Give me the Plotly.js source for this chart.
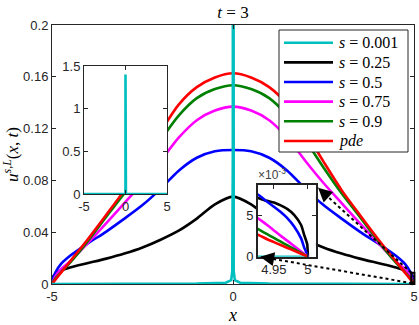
<!DOCTYPE html>
<html>
<head>
<meta charset="utf-8">
<script src="https://cdn.plot.ly/plotly-3.0.1.min.js"></script>
<style>
  html, body { margin: 0; padding: 0; background: #fff; }
  #plot { width: 419px; height: 325px; }
</style>
</head>
<body>
<div id="plot"></div>
<script>
// --- datos ---
const xs = [-5, -4.99, -4.95, -4.9, -4.75, -4.5, -4, -3.5, -3, -2.5, -2, -1.5, -1, -0.5, 0,
            0.5, 1, 1.5, 2, 2.5, 3, 3.5, 4, 4.5, 4.75, 4.9, 4.95, 4.99, 5];

const uS025 = [0, 0.0038, 0.0065, 0.0078, 0.0105, 0.0128, 0.0162, 0.0196, 0.0235, 0.0282, 0.0342, 0.0412, 0.0505, 0.0615, 0.0675,
               0.0615, 0.0505, 0.0412, 0.0342, 0.0282, 0.0235, 0.0196, 0.0162, 0.0128, 0.0105, 0.0078, 0.0065, 0.0038, 0];
const uS05  = [0, 0.0022, 0.006, 0.0092, 0.0155, 0.0218, 0.0315, 0.0405, 0.0505, 0.061, 0.0735, 0.0875, 0.0975, 0.1025, 0.1035,
               0.1025, 0.0975, 0.0875, 0.0735, 0.061, 0.0505, 0.0405, 0.0315, 0.0218, 0.0155, 0.0092, 0.006, 0.0022, 0];
const uS075 = [0, 0.0006, 0.0032, 0.0063, 0.0115, 0.0175, 0.032, 0.047, 0.0625, 0.078, 0.095, 0.113, 0.1265, 0.134, 0.137,
               0.134, 0.1265, 0.113, 0.095, 0.078, 0.0625, 0.047, 0.032, 0.0175, 0.0115, 0.0063, 0.0032, 0.0006, 0];
const uS09  = [0, 0.00045, 0.0023, 0.0045, 0.0092, 0.0165, 0.0335, 0.052, 0.07, 0.09, 0.111, 0.130, 0.1435, 0.1505, 0.1535,
               0.1505, 0.1435, 0.130, 0.111, 0.09, 0.07, 0.052, 0.0335, 0.0165, 0.0092, 0.0045, 0.0023, 0.00045, 0];
const uPde  = [0, 0.00035, 0.0018, 0.0036, 0.0088, 0.0175, 0.035, 0.0535, 0.0725, 0.0945, 0.1175, 0.1385, 0.152, 0.1595, 0.1627,
               0.1595, 0.152, 0.1385, 0.1175, 0.0945, 0.0725, 0.0535, 0.035, 0.0175, 0.0088, 0.0036, 0.0018, 0.00035, 0];

// s = 0.001: casi una delta en x = 0
const xSpike = [-5, -1, -0.2, -0.05, -0.02, -0.005, 0, 0.005, 0.02, 0.05, 0.2, 1, 5];
const uS0001 = [0, 0.0003, 0.001, 0.003, 0.01, 0.1, 1.4, 0.1, 0.01, 0.003, 0.001, 0.0003, 0];

// zoom cerca de x = 5 (valores x 1e-3)
const xZoom = [4.92, 4.93, 4.94, 4.95, 4.96, 4.97, 4.98, 4.99, 4.995, 4.999, 5];
const zS025 = [7.2, 6.95, 6.7, 6.5, 6.15, 5.7, 5.0, 3.8, 2.5, 1.5, 0];
const zS05  = [7.8, 7.25, 6.6, 6.0, 5.35, 4.6, 3.6, 2.2, 1.0, 0.3, 0];
const zS075 = [5.0, 4.4, 3.8, 3.15, 2.5, 1.9, 1.25, 0.62, 0.31, 0.06, 0];
const zS09  = [3.6, 3.15, 2.7, 2.25, 1.8, 1.35, 0.9, 0.45, 0.22, 0.05, 0];
const zPde  = [2.85, 2.5, 2.1, 1.75, 1.4, 1.05, 0.7, 0.35, 0.18, 0.04, 0];
const zS0001 = [0, 0, 0, 0, 0, 0, 0, 0, 0, 0, 0];

const seriesNames = ['<i>s</i> = 0.001', '<i>s</i> = 0.25', '<i>s</i> = 0.5',
                     '<i>s</i> = 0.75', '<i>s</i> = 0.9', '<i>pde</i>'];
const seriesColors = ['#00BFBF', '#000000', '#0000FF', '#FF00FF', '#008000', '#FF0000'];

const xTicks = [-5, 0, 5];
const xTickText = ['-5', '0', '5'];
const yTicks = [0, 0.04, 0.08, 0.12, 0.16, 0.2];
const yTickText = ['0', '0.04', '0.08', '0.12', '0.16', '0.2'];
const y2Ticks = [0, 0.5, 1, 1.5];
const y2TickText = ['0', '0.5', '1', '1.5'];
const x3Ticks = [4.95, 5];
const x3TickText = ['4.95', '5'];
const y3Ticks = [0, 5];
const y3TickText = ['0', '5'];

// --- configuracion ---
const LW = 2.6;
const AX = '#262626';
const serif = 'Liberation Serif, Times New Roman, serif';
const PW = 362, PH = 259;   // tamano del area de trazado en px

const inset1 = { x: [0.0884, 0.3177], y: [0.3475, 0.8417] };
const inset2 = { x: [0.569, 0.729], y: [0.1054, 0.3822] };
const zoomRangeX = [4.9265, 5.0118];
const zoomRangeY = [0, 8.6];

// px -> paper (relativo al area de trazado)
const px = X => (X - 52) / PW;
const py = Y => (284 - Y) / PH;

function mainTrace(y, i) {
    return {
        x: xs, y: y, type: 'scatter', mode: 'lines', name: seriesNames[i],
        line: { color: seriesColors[i], width: LW, shape: 'spline', smoothing: 0.8 },
        xaxis: 'x', yaxis: 'y', hoverinfo: 'skip'
    };
}

function zoomTrace(y, i) {
    return {
        x: xZoom, y: y, type: 'scatter', mode: 'lines', name: seriesNames[i],
        line: { color: seriesColors[i], width: LW, shape: 'spline', smoothing: 0.5 },
        xaxis: 'x3', yaxis: 'y3', hoverinfo: 'skip'
    };
}

const traces = [
    mainTrace(uS025, 1),
    mainTrace(uS05, 2),
    mainTrace(uS075, 3),
    mainTrace(uS09, 4),
    mainTrace(uPde, 5),
    {
        x: xSpike, y: uS0001, type: 'scatter', mode: 'lines', name: seriesNames[0],
        line: { color: seriesColors[0], width: LW },
        xaxis: 'x', yaxis: 'y', hoverinfo: 'skip'
    },
    {
        x: xSpike, y: uS0001, type: 'scatter', mode: 'lines', name: seriesNames[0],
        line: { color: seriesColors[0], width: LW },
        xaxis: 'x2', yaxis: 'y2', hoverinfo: 'skip'
    },
    zoomTrace(zS0001, 0),
    zoomTrace(zS025, 1),
    zoomTrace(zS05, 2),
    zoomTrace(zS075, 3),
    zoomTrace(zS09, 4),
    zoomTrace(zPde, 5)
];

function boxAxis(extra) {
    return Object.assign({
        showline: true, mirror: 'ticks', linecolor: AX, linewidth: 1,
        ticks: 'inside', ticklen: 4, tickcolor: AX, tickwidth: 1,
        showgrid: false, zeroline: false, fixedrange: true
    }, extra);
}

// el rectangulo pequeno en el grafico principal = rango del zoom
const rect = {
    x0: (zoomRangeX[0] + 5) / 10, x1: (zoomRangeX[1] + 5) / 10,
    y0: zoomRangeY[0] / 1000 / 0.2, y1: zoomRangeY[1] / 1000 / 0.2
};
const head1 = { x: inset2.x[1] + 0.006, y: inset2.y[1] - 0.011 };
const head2 = { x: inset2.x[0] + 0.006, y: inset2.y[0] };
const tail1 = { x: rect.x0, y: rect.y1 };
const tail2 = { x: rect.x0 + 0.002, y: rect.y0 + 0.003 };

function arrowOffset(tail, head) {
    const dx = (tail.x - head.x) * PW, dy = -(tail.y - head.y) * PH;
    const n = Math.sqrt(dx * dx + dy * dy);
    return { ax: dx / n * 9, ay: dy / n * 9 };
}
const off1 = arrowOffset(tail1, head1);
const off2 = arrowOffset(tail2, head2);

const shapes = [
    { type: 'line', xref: 'paper', yref: 'paper', x0: tail1.x, y0: tail1.y, x1: head1.x, y1: head1.y,
      line: { color: '#000', width: 2, dash: 'dot' } },
    { type: 'line', xref: 'paper', yref: 'paper', x0: tail2.x, y0: tail2.y, x1: head2.x, y1: head2.y,
      line: { color: '#000', width: 2, dash: 'dot' } },
    { type: 'rect', xref: 'paper', yref: 'paper', x0: rect.x0, y0: rect.y0, x1: rect.x1, y1: rect.y1,
      line: { color: '#000', width: 2 } },
    { type: 'circle', xref: 'paper', yref: 'paper', x0: tail2.x - 0.006, y0: tail2.y - 0.008, x1: tail2.x + 0.006, y1: tail2.y + 0.008,
      fillcolor: '#000', line: { color: '#000', width: 0 } },
    // caja de la leyenda
    { type: 'rect', xref: 'paper', yref: 'paper', x0: px(279), x1: px(408), y0: py(152), y1: py(30),
      fillcolor: '#fff', line: { color: AX, width: 1 } }
];

const annotations = [
    { xref: 'paper', yref: 'paper', x: head1.x, y: head1.y, text: '', showarrow: true,
      axref: 'pixel', ayref: 'pixel', ax: off1.ax, ay: off1.ay,
      arrowhead: 2, arrowsize: 1.4, arrowwidth: 2, arrowcolor: '#000', standoff: 0 },
    { xref: 'paper', yref: 'paper', x: head2.x, y: head2.y, text: '', showarrow: true,
      axref: 'pixel', ayref: 'pixel', ax: off2.ax, ay: off2.ay,
      arrowhead: 2, arrowsize: 1.4, arrowwidth: 2, arrowcolor: '#000', standoff: 0 },
    { xref: 'paper', yref: 'paper', x: inset2.x[0] - 0.005, y: inset2.y[1] + 0.005,
      xanchor: 'left', yanchor: 'bottom', showarrow: false,
      text: '×10<sup>-3</sup>', font: { size: 12, color: '#404040' } }
];

// leyenda dibujada a mano (linea de muestra mas larga, como en el original)
seriesNames.forEach((name, i) => {
    const Y = 42.7 + i * 19.65;
    shapes.push({ type: 'line', xref: 'paper', yref: 'paper',
                  x0: px(284), x1: px(333), y0: py(Y), y1: py(Y),
                  line: { color: seriesColors[i], width: LW } });
    annotations.push({ xref: 'paper', yref: 'paper', x: px(337), y: py(Y),
                       xanchor: 'left', yanchor: 'middle', showarrow: false,
                       text: name, font: { family: serif, size: 16, color: '#000' } });
});

const layout = {
    width: 419, height: 325,
    margin: { l: 52, r: 5, t: 25, b: 41 },
    paper_bgcolor: '#fff', plot_bgcolor: '#fff',
    font: { family: 'Liberation Sans, Arial, sans-serif', size: 13, color: AX },
    title: {
        text: '<i>t</i> = 3', font: { family: serif, size: 17, color: '#000' },
        x: 0.5, xref: 'paper', xanchor: 'center', y: 0.963, yref: 'container', yanchor: 'middle'
    },
    showlegend: false,
    xaxis: boxAxis({
        domain: [0, 1], anchor: 'y', range: [-5, 5],
        tickvals: xTicks, ticktext: xTickText,
        title: { text: '<i>x</i>', font: { family: serif, size: 18, color: '#000' }, standoff: 14 }
    }),
    yaxis: boxAxis({
        domain: [0, 1], anchor: 'x', range: [0, 0.2],
        tickvals: yTicks, ticktext: yTickText,
        title: { text: '<i>u</i><sup><i>s,L</i></sup>(<i>x</i>, <i>t</i>)', font: { family: serif, size: 17, color: '#000' }, standoff: 8 }
    }),
    xaxis2: boxAxis({
        domain: inset1.x, anchor: 'y2', range: [-5, 5],
        tickvals: xTicks, ticktext: xTickText
    }),
    yaxis2: boxAxis({
        domain: inset1.y, anchor: 'x2', range: [0, 1.5],
        tickvals: y2Ticks, ticktext: y2TickText
    }),
    xaxis3: boxAxis({
        domain: inset2.x, anchor: 'y3', range: zoomRangeX,
        tickvals: x3Ticks, ticktext: x3TickText, linecolor: '#222', linewidth: 2
    }),
    yaxis3: boxAxis({
        domain: inset2.y, anchor: 'x3', range: zoomRangeY,
        tickvals: y3Ticks, ticktext: y3TickText, linecolor: '#222', linewidth: 2
    }),
    shapes: shapes,
    annotations: annotations
};

Plotly.newPlot('plot', traces, layout, { staticPlot: true, displayModeBar: false });
</script>
</body>
</html>
